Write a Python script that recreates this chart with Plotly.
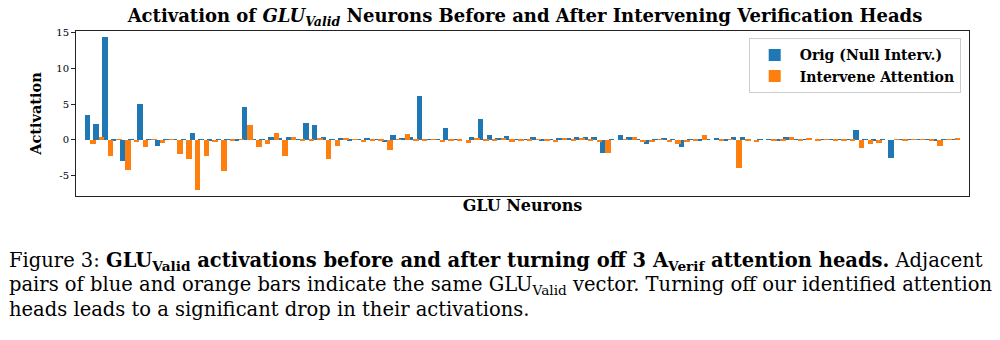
import plotly.graph_objects as go

neurons = list(range(100))

orig_null = [
    3.4, 2.2, 14.3, -0.1, -2.9, 0.1, 5.0, 0.05, -0.85, 0.1,
    0.05, 0.1, 0.93, 0.05, -0.1, 0.05, 0.05, -0.15, 4.65, 0.05,
    0.1, 0.4, 0.15, 0.37, 0.05, 2.4, 2.0, 0.37, 0.05, 0.25,
    -0.05, 0.1, 0.15, 0.05, -0.3, 0.65, 0.15, 0.35, 6.1, 0.1,
    0.05, 1.65, 0.1, 0.0, 0.4, 2.85, 0.65, 0.25, 0.5, 0.05,
    0.05, 0.35, -0.05, 0.1, 0.3, 0.2, 0.45, 0.45, 0.35, -1.85,
    0.1, 0.65, 0.35, 0.05, -0.55, 0.1, 0.15, 0.05, -1.0, 0.05,
    -0.1, 0.1, 0.2, -0.2, 0.45, 0.45, 0.0, 0.05, 0.1, -0.05,
    0.45, 0.05, 0.1, 0.0, 0.1, 0.05, 0.1, 0.05, 1.35, 0.05,
    -0.05, 0.1, -2.55, 0.05, 0.1, 0.05, 0.1, -0.1, 0.1, 0.1,
]

intervene_attn = [
    -0.6, 0.45, -2.3, 0.1, -4.2, -0.35, -1.0, 0.1, -0.5, 0.05,
    -2.0, -2.65, -7.0, -2.25, -0.3, -4.3, -0.05, 0.05, 2.05, -1.0,
    -0.55, 0.93, -2.3, 0.37, -0.1, -0.15, 0.2, -2.7, -0.8, 0.2,
    0.05, -0.3, -0.1, -0.05, -1.45, 0.1, 0.8, -0.1, -0.15, 0.05,
    -0.3, -0.2, -0.05, -0.5, 0.2, -0.1, -0.2, 0.15, -0.25, -0.05,
    -0.05, 0.1, -0.1, -0.3, 0.15, -0.2, 0.15, -0.15, -0.35, -1.85,
    0.0, 0.05, 0.35, -0.3, -0.3, 0.05, -0.3, -0.65, -0.35, -0.1,
    0.65, 0.0, -0.1, 0.1, -3.95, -0.1, -0.35, 0.0, -0.05, -0.15,
    0.45, -0.1, 0.2, -0.15, 0.05, -0.05, -0.15, -0.05, -1.15, -0.55,
    -0.45, 0.0, 0.05, -0.05, 0.05, 0.05, -0.1, -0.8, 0.1, 0.3,
]

series_names = ["Orig (Null Interv.)", "Intervene Attention"]
y_ticks = [-5, 0, 5, 10, 15]

BAR_W = 0.62
SERIF = "DejaVu Serif"

fig = go.Figure()
fig.add_trace(go.Bar(
    x=neurons, y=orig_null, name="<b>" + series_names[0] + "</b>",
    width=BAR_W, offset=-BAR_W, marker=dict(color="#1f77b4", line=dict(width=0)),
))
fig.add_trace(go.Bar(
    x=neurons, y=intervene_attn, name="<b>" + series_names[1] + "</b>",
    width=BAR_W, offset=0, marker=dict(color="#ff7f0e", line=dict(width=0)),
))

L, R, T, B = 76, 31, 31, 144
W, H = 1000, 340
pw, ph = W - L - R, H - T - B

def px_x(x):
    return (x - L) / pw

def px_y(y):
    return (H - B - y) / ph

fig.update_layout(
    width=W, height=H,
    margin=dict(l=L, r=R, t=T, b=B, pad=0),
    paper_bgcolor="white", plot_bgcolor="white",
    barmode="overlay", bargap=0,
    font=dict(family=SERIF, color="black"),
    title=dict(
        text="<b>Activation of <i>GLU</i><sub><i>Valid</i></sub> Neurons Before and After Intervening Verification Heads</b>",
        x=525 / W, xanchor="center", y=1 - 16 / H, yanchor="middle",
        font=dict(size=18, family=SERIF, color="black"),
    ),
    xaxis=dict(
        range=[-1.62, 100.62], showticklabels=False, ticks="", showgrid=False,
        zeroline=False, showline=True, mirror=True, linecolor="#222222", linewidth=1,
        title=dict(text="<b>GLU Neurons</b>", font=dict(size=16, family=SERIF), standoff=3),
    ),
    yaxis=dict(
        range=[-7.85, 15.2], tickvals=y_ticks, ticktext=[str(v) for v in y_ticks],
        ticks="outside", ticklen=4, tickwidth=0.8, tickcolor="#222222",
        tickfont=dict(size=10, family=SERIF),
        showgrid=False, zeroline=False, showline=True, mirror=True,
        linecolor="#222222", linewidth=1,
        title=dict(text="<b>Activation</b>", font=dict(size=14.5, family=SERIF), standoff=11),
    ),
    legend=dict(
        x=px_x(960.7), xanchor="right", y=px_y(38.3), yanchor="top",
        bgcolor="rgba(255,255,255,0.8)", bordercolor="#cccccc", borderwidth=1,
        font=dict(size=14, family=SERIF), itemwidth=40, tracegroupgap=0,
    ),
    showlegend=True,
)

caption_lines = [
    "Figure 3: <b>GLU<sub>Valid</sub> activations before and after turning off 3 A<sub>Verif</sub> attention heads.</b> Adjacent",
    "pairs of blue and orange bars indicate the same GLU<sub>Valid</sub> vector. Turning off our identified attention",
    "heads leads to a significant drop in their activations.",
]
caption_y = [261, 285, 309]
for txt, yy in zip(caption_lines, caption_y):
    fig.add_annotation(
        text=txt, xref="paper", yref="paper", x=px_x(7), y=px_y(yy),
        xanchor="left", yanchor="middle", showarrow=False,
        font=dict(size=19.5, family=SERIF, color="black"),
    )

fig.write_html("out.html")
